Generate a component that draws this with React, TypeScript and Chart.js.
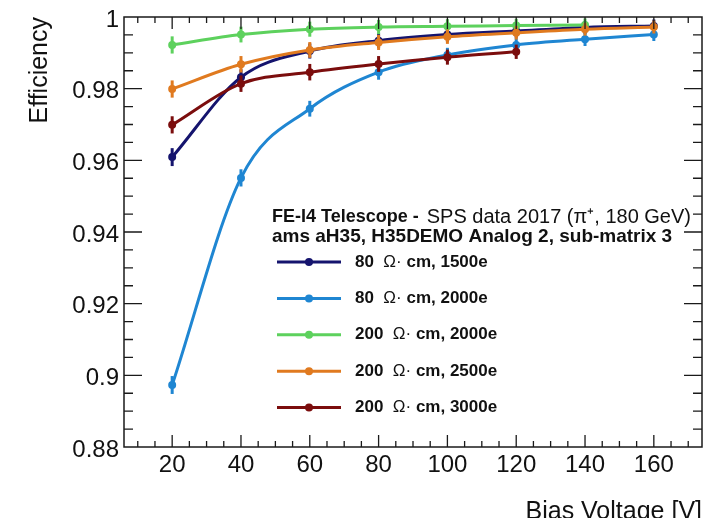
import React, { useEffect, useRef } from 'react';
import { Chart, registerables } from 'chart.js';

Chart.register(...registerables);

const FONT = "'Liberation Sans', Arial, Helvetica, sans-serif";

// ---------- data ----------
const biasVoltages = [20, 40, 60, 80, 100, 120, 140, 160];

const eff80_1500 = [0.9609, 0.9832, 0.9905, 0.9934, 0.9951, 0.9961, 0.9971, 0.9975];
const err80_1500 = [0.0025, 0.0022, 0.0021, 0.0020, 0.0020, 0.0019, 0.0018, 0.0018];

const eff80_2000 = [0.8973, 0.9551, 0.9744, 0.9846, 0.9894, 0.9922, 0.9938, 0.9951];
const err80_2000 = [0.0025, 0.0024, 0.0022, 0.0021, 0.0020, 0.0019, 0.0019, 0.0018];

const eff200_2000 = [0.9922, 0.9951, 0.9966, 0.9972, 0.9974, 0.9976, 0.9978];
const err200_2000 = [0.0024, 0.0022, 0.0021, 0.0020, 0.0020, 0.0019, 0.0018];

const eff200_2500 = [0.9799, 0.9868, 0.9908, 0.9929, 0.9945, 0.9956, 0.9966, 0.9972];
const err200_2500 = [0.0024, 0.0023, 0.0022, 0.0021, 0.0020, 0.0019, 0.0018, 0.0018];

const eff200_3000 = [0.9699, 0.9814, 0.9846, 0.9869, 0.9888, 0.9903];
const err200_3000 = [0.0024, 0.0023, 0.0023, 0.0022, 0.0021, 0.0020];

const resistivities = ['80', '80', '200', '200', '200'];
const thresholds = ['1500e', '2000e', '2000e', '2500e', '3000e'];
const seriesColors = ['#15146e', '#1f86d2', '#5dd15d', '#e07a1f', '#7b0d0d'];

const xMajorTicks = [20, 40, 60, 80, 100, 120, 140, 160];
const yMajorTicks = [0.88, 0.9, 0.92, 0.94, 0.96, 0.98, 1];

const legendHeaderBold = 'FE-I4 Telescope - ';
const legendHeaderNormal = 'SPS data 2017 (\u03c0\u207a, 180 GeV)';
const legendHeader2 = 'ams aH35, H35DEMO Analog 2, sub-matrix 3';

const X_MIN = 6;
const X_MAX = 174;
const Y_MIN = 0.88;
const Y_MAX = 1;
const X_MINOR_STEP = 5;
const Y_MINOR_STEP = 0.005;

const effSeries = [eff80_1500, eff80_2000, eff200_2000, eff200_2500, eff200_3000];
const errSeries = [err80_1500, err80_2000, err200_2000, err200_2500, err200_3000];

// ---------- plugins ----------
const errorBarPlugin = {
  id: 'errorBars',
  afterDatasetDraw(chart: any, args: any) {
    const ds = chart.data.datasets[args.index];
    const errs: number[] = ds.errors;
    if (!errs) return;
    const { ctx, scales } = chart;
    const ys = scales.y;
    ctx.save();
    ctx.strokeStyle = ds.borderColor;
    ctx.lineWidth = 3;
    ctx.lineCap = 'butt';
    args.meta.data.forEach((pt: any, i: number) => {
      const v = ds.data[i].y;
      const top = ys.getPixelForValue(v + errs[i]);
      const bot = ys.getPixelForValue(v - errs[i]);
      ctx.beginPath();
      ctx.moveTo(pt.x, top);
      ctx.lineTo(pt.x, bot);
      ctx.stroke();
    });
    ctx.restore();
  },
};

const frameLegendPlugin = {
  id: 'frameLegend',
  afterDraw(chart: any) {
    const { ctx, chartArea: a, scales } = chart;
    const xs = scales.x;
    const ys = scales.y;
    ctx.save();
    // frame
    ctx.strokeStyle = '#1a1a1a';
    ctx.lineWidth = 1.5;
    ctx.strokeRect(a.left, a.top, a.right - a.left, a.bottom - a.top);
    // ticks
    ctx.lineWidth = 1.3;
    ctx.beginPath();
    const nx = Math.round((X_MAX - X_MIN) / X_MINOR_STEP) + 1;
    for (let k = 0; k <= nx; k++) {
      const v = Math.ceil(X_MIN / X_MINOR_STEP) * X_MINOR_STEP + k * X_MINOR_STEP;
      if (v <= X_MIN || v >= X_MAX) continue;
      const px = xs.getPixelForValue(v);
      const major = xMajorTicks.includes(v);
      const len = major ? 12 : 6;
      ctx.moveTo(px, a.bottom);
      ctx.lineTo(px, a.bottom - len);
      ctx.moveTo(px, a.top);
      ctx.lineTo(px, a.top + len);
    }
    const ny = Math.round((Y_MAX - Y_MIN) / Y_MINOR_STEP);
    for (let k = 1; k < ny; k++) {
      const v = Y_MIN + k * Y_MINOR_STEP;
      const py = ys.getPixelForValue(v);
      const major = k % 4 === 0;
      const len = major ? 18 : 9;
      ctx.moveTo(a.left, py);
      ctx.lineTo(a.left + len, py);
      ctx.moveTo(a.right, py);
      ctx.lineTo(a.right - len, py);
    }
    ctx.stroke();

    // legend
    ctx.fillStyle = '#111';
    ctx.textBaseline = 'middle';
    ctx.textAlign = 'left';
    const hx = 272;
    ctx.font = `bold 18px ${FONT}`;
    ctx.fillText(legendHeaderBold, hx, 217);
    const w1 = ctx.measureText(legendHeaderBold).width + 3;
    ctx.font = `20px ${FONT}`;
    ctx.fillText(legendHeaderNormal, hx + w1, 217);
    ctx.font = `bold 19px ${FONT}`;
    ctx.fillText(legendHeader2, hx, 237);

    const ds = chart.data.datasets;
    ds.forEach((d: any, i: number) => {
      const yy = 262 + i * 36.4;
      ctx.strokeStyle = d.borderColor;
      ctx.lineWidth = 3;
      ctx.beginPath();
      ctx.moveTo(277, yy);
      ctx.lineTo(341, yy);
      ctx.stroke();
      ctx.fillStyle = d.borderColor;
      ctx.beginPath();
      ctx.arc(309, yy, 4, 0, Math.PI * 2);
      ctx.fill();
      ctx.fillStyle = '#111';
      let tx = 355;
      ctx.font = `bold 17px ${FONT}`;
      const a1 = resistivities[i] + '  ';
      ctx.fillText(a1, tx, yy);
      tx += ctx.measureText(a1).width;
      ctx.font = `17px ${FONT}`;
      const a2 = '\u03a9\u00b7';
      ctx.fillText(a2, tx, yy);
      tx += ctx.measureText(a2).width;
      ctx.font = `bold 17px ${FONT}`;
      ctx.fillText(' cm, ' + thresholds[i], tx, yy);
    });
    ctx.restore();
  },
};

export default function App() {
  const ref = useRef<HTMLCanvasElement>(null);

  useEffect(() => {
    const datasets = effSeries.map((eff, i) => ({
      label: `${resistivities[i]} \u03a9\u00b7 cm, ${thresholds[i]}`,
      data: eff.map((v, j) => ({ x: biasVoltages[j], y: v })),
      errors: errSeries[i],
      borderColor: seriesColors[i],
      backgroundColor: seriesColors[i],
      borderWidth: 3,
      pointRadius: 4,
      pointHoverRadius: 4,
      pointBorderWidth: 0,
      cubicInterpolationMode: 'monotone' as const,
      fill: false,
      order: 5 - i,
    }));

    const chart = new Chart(ref.current!, {
      type: 'line',
      data: { datasets: datasets as any },
      options: {
        responsive: false,
        animation: false,
        devicePixelRatio: 1,
        layout: { padding: { top: 13, right: 22, bottom: 0, left: 0 } },
        plugins: {
          legend: { display: false },
          tooltip: { enabled: false },
          title: { display: false },
        },
        scales: {
          x: {
            type: 'linear',
            min: X_MIN,
            max: X_MAX,
            afterBuildTicks: (s: any) => {
              s.ticks = xMajorTicks.map((v) => ({ value: v }));
            },
            afterFit: (s: any) => {
              s.height = 71;
            },
            grid: { display: false, drawTicks: false },
            border: { display: false },
            ticks: {
              font: { family: FONT, size: 24, lineHeight: 1 },
              color: '#111',
              padding: 6,
              maxRotation: 0,
              autoSkip: false,
            },
            title: {
              display: true,
              text: 'Bias Voltage [V]',
              align: 'end',
              color: '#111',
              font: { family: FONT, size: 25, lineHeight: 1 },
              padding: { top: 0, bottom: -7 },
            },
          },
          y: {
            type: 'linear',
            min: Y_MIN,
            max: Y_MAX,
            afterBuildTicks: (s: any) => {
              s.ticks = yMajorTicks.map((v) => ({ value: v }));
            },
            afterFit: (s: any) => {
              s.width = 124;
            },
            grid: { display: false, drawTicks: false },
            border: { display: false },
            ticks: {
              font: { family: FONT, size: 24, lineHeight: 1 },
              color: '#111',
              padding: 5,
              labelOffset: 3,
              callback: (v: any) => String(Number(Number(v).toFixed(2))),
            },
            title: {
              display: true,
              text: 'Efficiency',
              align: 'end',
              color: '#111',
              font: { family: FONT, size: 25, lineHeight: 1 },
              padding: { top: 28, bottom: 0 },
            },
          },
        },
      },
      plugins: [errorBarPlugin, frameLegendPlugin],
    });
    return () => chart.destroy();
  }, []);

  return (
    <div style={{ position: 'absolute', left: 0, top: 0, width: 724, height: 518, background: '#fff' }}>
      <canvas ref={ref} width={724} height={518} style={{ display: 'block', width: 724, height: 518 }} />
    </div>
  );
}
